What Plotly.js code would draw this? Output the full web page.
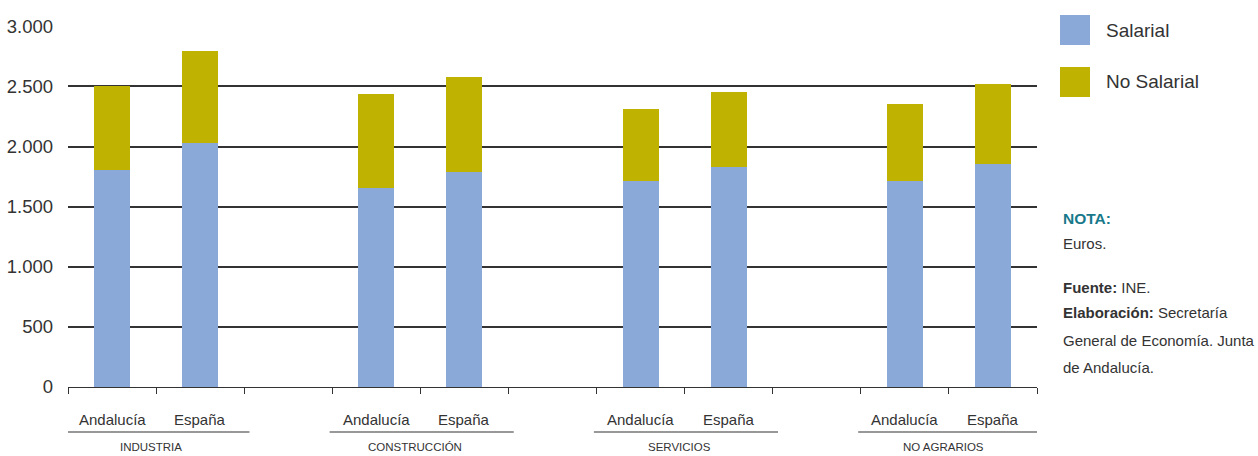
<!DOCTYPE html>
<html>
<head>
<meta charset="utf-8">
<script src="https://cdn.plot.ly/plotly-3.0.1.min.js"></script>
<style>
html,body{margin:0;padding:0;background:#fff;}
#chart{width:1258px;height:456px;}
</style>
</head>
<body>
<div id="chart"></div>
<script>
// ---- data ----
const groups = ["INDUSTRIA", "CONSTRUCCIÓN", "SERVICIOS", "NO AGRARIOS"];
const regions = ["Andalucía", "España"];
const salarial   = [1804, 2026, 1656, 1789, 1712, 1828, 1712, 1856];
const noSalarial = [704, 767, 780, 788, 599, 624, 640, 663];
const yTicks = [0, 500, 1000, 1500, 2000, 2500, 3000];
const seriesNames = ["Salarial", "No Salarial"];
const colors = ["#8aa9d8", "#bfb200"];
const notes = [
  "<b>Fuente:</b> INE.",
  "<b>Elaboración:</b> Secretaría",
  "General de Economía. Junta",
  "de Andalucía."
];

// ---- build ----
const xs = [], labels = [];
groups.forEach((g, gi) => regions.forEach((r, ri) => { xs.push(gi * 3 + ri); labels.push(r); }));
const nSlots = groups.length * 3 - 1;
const tickBounds = [];
for (let i = 0; i <= nSlots; i++) tickBounds.push(i - 0.5);

const font = "'Liberation Sans', Arial, sans-serif";
const txt = "#333333";

const traces = [
  {type: "bar", x: xs, y: salarial, name: seriesNames[0], width: 0.41,
   marker: {color: colors[0]}, hoverinfo: "y"},
  {type: "bar", x: xs, y: noSalarial, name: seriesNames[1], width: 0.41,
   marker: {color: colors[1]}, hoverinfo: "y"}
];

const annotations = [];
const shapes = [];
// category labels
xs.forEach((x, i) => annotations.push({
  x: x, y: 0, xref: "x", yref: "paper", yshift: -32, yanchor: "middle",
  text: labels[i], showarrow: false, font: {family: font, size: 15, color: txt}
}));
// group underline + group label
groups.forEach((g, gi) => {
  const a = gi * 3, b = gi * 3 + 1;
  shapes.push({type: "line", xref: "x", yref: "paper", x0: a - 0.53, x1: b + 0.56,
    y0: -0.1247, y1: -0.1247, line: {color: "#333", width: 1.2}});
  annotations.push({x: (a + b) / 2 - 0.06, y: 0, xref: "x", yref: "paper", yshift: -60,
    yanchor: "middle", text: g, showarrow: false,
    font: {family: font, size: 11.5, color: txt}});
});
// legend (custom)
seriesNames.forEach((n, i) => {
  const yTop = 15 + i * 52;
  shapes.push({type: "rect", xref: "paper", yref: "paper",
    x0: (1060 - 68) / 969, x1: (1090 - 68) / 969,
    y0: (387 - yTop) / 361, y1: (387 - yTop - 30) / 361,
    fillcolor: colors[i], line: {width: 0}});
  annotations.push({xref: "paper", yref: "paper", x: (1104 - 68) / 969, y: (387 - yTop - 15) / 361,
    xanchor: "left", yanchor: "middle", text: n, showarrow: false,
    font: {family: font, size: 19, color: txt}});
});
// notes
const nx = (1061 - 68) / 969;
annotations.push({xref: "paper", yref: "paper", x: nx, y: (387 - 218) / 361, xanchor: "left",
  yanchor: "middle", text: "<b>NOTA:</b>", showarrow: false,
  font: {family: font, size: 15.5, color: "#17798a"}});
annotations.push({xref: "paper", yref: "paper", x: nx, y: (387 - 243) / 361, xanchor: "left",
  yanchor: "middle", text: "Euros.", showarrow: false,
  font: {family: font, size: 15, color: txt}});
const noteY = [287, 312, 340, 367];
notes.forEach((t, i) => annotations.push({xref: "paper", yref: "paper", x: nx,
  y: (387 - noteY[i]) / 361, xanchor: "left", yanchor: "middle", text: t, showarrow: false,
  font: {family: font, size: 15, color: txt}}));

const layout = {
  width: 1258, height: 456,
  margin: {l: 68, r: 221, t: 26, b: 69, pad: 0},
  barmode: "stack",
  showlegend: false,
  separators: ",.",
  paper_bgcolor: "#ffffff", plot_bgcolor: "#ffffff",
  xaxis: {
    range: [-0.5, nSlots - 0.5], tickmode: "array", tickvals: tickBounds,
    showticklabels: false, ticks: "outside", ticklen: 6, tickcolor: "#333", tickwidth: 1,
    showgrid: false, zeroline: false, showline: true, linecolor: "#333", linewidth: 1,
    fixedrange: true
  },
  yaxis: {
    range: [0, 3003], tickmode: "array", tickvals: yTicks, tickformat: ",d",
    showgrid: true, gridcolor: "#333", gridwidth: 2, zeroline: false,
    showline: false, ticks: "", ticklabelstandoff: 14,
    tickfont: {family: font, size: 18.5, color: txt}, fixedrange: true
  },
  annotations: annotations,
  shapes: shapes
};

Plotly.newPlot("chart", traces, layout, {displayModeBar: false, staticPlot: true});
</script>
</body>
</html>
